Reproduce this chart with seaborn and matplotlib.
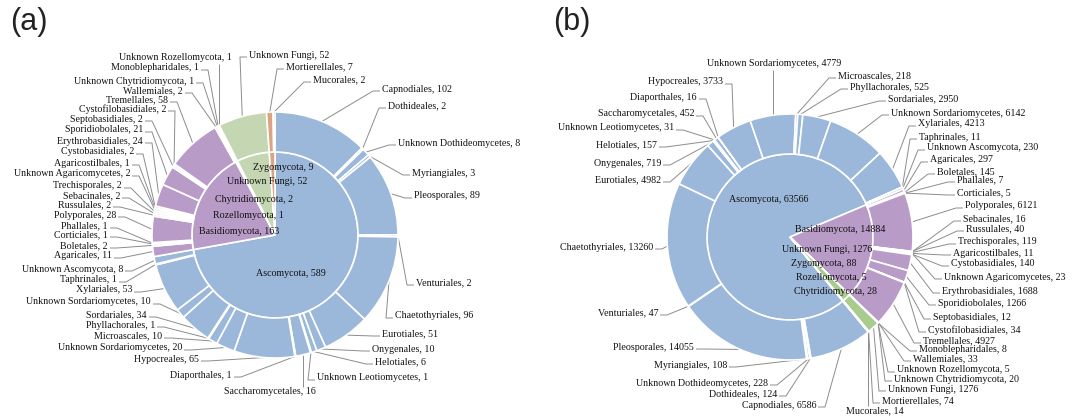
import numpy as np
import matplotlib
matplotlib.use("Agg")
import matplotlib.pyplot as plt
import seaborn as sns

sns.set_theme(style="white")
plt.rcParams['font.family'] = ['Liberation Serif', 'DejaVu Serif']

# ---------------- data ----------------
phyla = ["Ascomycota", "Basidiomycota", "Chytridiomycota", "Rozellomycota",
         "Unknown Fungi", "Zygomycota"]
phyla_a = [589, 163, 2, 1, 52, 9]
phyla_b = [63566, 14884, 28, 5, 1276, 88]

orders = ["Capnodiales", "Dothideales", "Unknown Dothideomycetes", "Myriangiales",
          "Pleosporales", "Venturiales", "Chaetothyriales", "Eurotiales",
          "Onygenales", "Helotiales", "Unknown Leotiomycetes", "Saccharomycetales",
          "Diaporthales", "Hypocreales", "Unknown Sordariomycetes", "Microascales",
          "Phyllachorales", "Sordariales", "Unknown Sordariomycetes", "Xylariales",
          "Taphrinales", "Unknown Ascomycota",
          "Agaricales", "Boletales", "Corticiales", "Phallales", "Polyporales",
          "Russulales", "Sebacinales", "Trechisporales", "Unknown Agaricomycetes",
          "Agaricostilbales", "Cystobasidiales", "Erythrobasidiales",
          "Sporidiobolales", "Septobasidiales", "Cystofilobasidiales",
          "Tremellales", "Wallemiales",
          "Unknown Chytridiomycota", "Monoblepharidales",
          "Unknown Rozellomycota",
          "Unknown Fungi",
          "Mortierellales", "Mucorales"]
# phylum index of every order
order_phylum = [0] * 22 + [1] * 17 + [2, 2, 3, 4, 5, 5]

orders_a = [102, 2, 8, 3, 89, 2, 96, 51, 10, 6, 1, 16, 1, 65, 20, 10, 1, 34, 10, 53, 1, 8,
            11, 2, 1, 1, 28, 2, 2, 2, 2, 1, 2, 24, 21, 2, 2, 58, 2,
            1, 1, 1, 52, 7, 2]
orders_b = [6586, 124, 228, 108, 14055, 47, 13260, 4982, 719, 157, 31, 452, 16, 3733,
            4779, 218, 525, 2950, 6142, 4213, 11, 230,
            297, 145, 5, 7, 6121, 40, 16, 119, 23, 11, 140, 1688, 1266, 12, 34, 4927, 33,
            20, 8, 5, 1276, 74, 14]

# ---------------- layout (pixels, y downwards) ----------------
W, H = 1077, 420
R_OUT, R_IN = 123, 83

labels_pos_a = [(382, 89, 'R'), (388, 106, 'R'), (398, 143, 'R'), (412, 173, 'R'),
                (414, 196, 'R'), (416, 283, 'R'), (395, 316, 'R'), (382, 334, 'R'),
                (372, 349, 'R'), (375, 362, 'R'), (317, 378, 'R'), (270, 392, 'V'),
                (232, 375, 'L'), (199, 359, 'L'), (182, 348, 'L'), (162, 336, 'L'),
                (155, 325, 'L'), (147, 315, 'L'), (151, 302, 'L'), (132, 290, 'L'),
                (117, 280, 'L'), (123, 269, 'L'),
                (112, 256, 'L'), (108, 246, 'L'), (108, 235, 'L'), (108, 226, 'L'),
                (116, 215, 'L'), (111, 205, 'L'), (120, 196, 'L'), (122, 186, 'L'),
                (130, 174, 'L'), (130, 163, 'L'), (134, 152, 'L'), (143, 141, 'L'),
                (143, 130, 'L'), (143, 119, 'L'), (166, 109, 'L'), (168, 100, 'L'),
                (183, 91, 'L'),
                (194, 81, 'L'), (199, 68, 'L'), (175, 58, 'V'), (249, 55, 'R'),
                (286, 67, 'R'), (313, 80, 'R')]
labels_pos_b = [(816, 405, 'L'), (777, 394, 'L'), (768, 383, 'L'), (727, 365, 'L'),
                (694, 347, 'L'), (658, 313, 'L'), (653, 247, 'L'), (661, 180, 'L'),
                (661, 163, 'L'), (657, 145, 'L'), (674, 128, 'L'), (694, 114, 'L'),
                (697, 97, 'L'), (723, 82, 'L'), (774, 64, 'V'), (838, 76, 'R'),
                (850, 87, 'R'), (888, 99, 'R'), (891, 113, 'R'), (918, 124, 'R'),
                (919, 137, 'R'), (927, 148, 'R'),
                (930, 160, 'R'), (937, 172, 'R'), (957, 193, 'R'), (957, 180, 'R'),
                (965, 206, 'R'), (966, 229, 'R'), (963, 219, 'R'), (958, 242, 'R'),
                (944, 277, 'R'), (953, 253, 'R'), (951, 264, 'R'), (942, 291, 'R'),
                (938, 303, 'R'), (933, 317, 'R'), (928, 330, 'R'), (923, 341, 'R'),
                (913, 359, 'R'),
                (894, 379, 'R'), (919, 349, 'R'), (897, 370, 'R'), (888, 389, 'R'),
                (882, 401, 'R'), (875, 411, 'V')]
inner_pos_a = [(291, 273), (239, 231), (254, 199), (248, 215), (267, 182), (283, 167)]
inner_pos_b = [(769, 200), (840, 230), (835, 291), (831, 278), (827, 250), (824, 264)]

colors_a = sns.color_palette(["#9BB7D9", "#B99BC8", "#D9D9D9", "#E6E6E6", "#C4D7B2", "#DBA283"])
colors_b = sns.color_palette(["#9BB7D9", "#B99BC8", "#D9D9D9", "#E6E6E6", "#A8CB8E", "#DBA283"])

fig = plt.figure(figsize=(W / 100, H / 100), dpi=100)
ax = fig.add_axes([0, 0, 1, 1])

charts = [
    dict(cx=275, cy=235, start=90, inner=phyla_a, outer=orders_a, pos=labels_pos_a,
         ipos=inner_pos_a, colors=colors_a, tag="(a)", tagx=10),
    dict(cx=790, cy=237, start=-50.5, inner=phyla_b, outer=orders_b, pos=labels_pos_b,
         ipos=inner_pos_b, colors=colors_b, tag="(b)", tagx=553),
]

leaders = []
for c in charts:
    cx, cy = c["cx"], H - c["cy"]
    ax.pie(c["inner"], radius=R_IN, center=(cx, cy), startangle=c["start"],
           counterclock=False, colors=c["colors"],
           wedgeprops=dict(edgecolor="white", linewidth=1.2))
    oc = [c["colors"][k] for k in order_phylum]
    wedges, _ = ax.pie(c["outer"], radius=R_OUT, center=(cx, cy), startangle=c["start"],
                       counterclock=False, colors=oc,
                       wedgeprops=dict(width=R_OUT - R_IN, edgecolor="white", linewidth=1.2))

    # phylum labels inside
    for name, val, (x, y) in zip(phyla, c["inner"], c["ipos"]):
        ax.text(x, H - y, f"{name}, {val}", ha="center", va="center", fontsize=7.2,
                color="#111111")

    # order labels around
    for name, val, w, (x, y, side) in zip(orders, c["outer"], wedges, c["pos"]):
        ang = np.deg2rad((w.theta1 + w.theta2) / 2)
        wx, wy = cx + R_OUT * np.cos(ang), cy + R_OUT * np.sin(ang)
        ha = {"L": "right", "R": "left", "V": "center"}[side]
        t = ax.text(x, H - y, f"{name}, {val}", ha=ha, va="center", fontsize=7.2,
                    color="#111111")
        leaders.append((t, side, wx, wy))

    ax.text(c["tagx"], H - 22, c["tag"], ha="left", va="center", fontsize=22,
            family=["Liberation Sans", "DejaVu Sans"], color="#222222")

ax.set_xlim(0, W)
ax.set_ylim(0, H)
ax.set_aspect("equal")
ax.axis("off")

# leader lines, attached to the drawn text boxes
fig.canvas.draw()
inv = ax.transData.inverted()
for t, side, wx, wy in leaders:
    bb = t.get_window_extent().transformed(inv)
    ym = (bb.y0 + bb.y1) / 2 - 2
    if side == "L":
        xs, ys = [wx, bb.x1 + 9, bb.x1 + 2], [wy, ym, ym]
    elif side == "R":
        xs, ys = [wx, bb.x0 - 9, bb.x0 - 2], [wy, ym, ym]
    else:
        ty = bb.y1 + 1 if wy > bb.y1 else bb.y0 - 1
        xs, ys = [wx, wx], [wy, ty]
    ax.plot(xs, ys, color="#8C8C8C", lw=0.7, solid_capstyle="butt", zorder=0.5)

fig.savefig("out.png", dpi=100)
